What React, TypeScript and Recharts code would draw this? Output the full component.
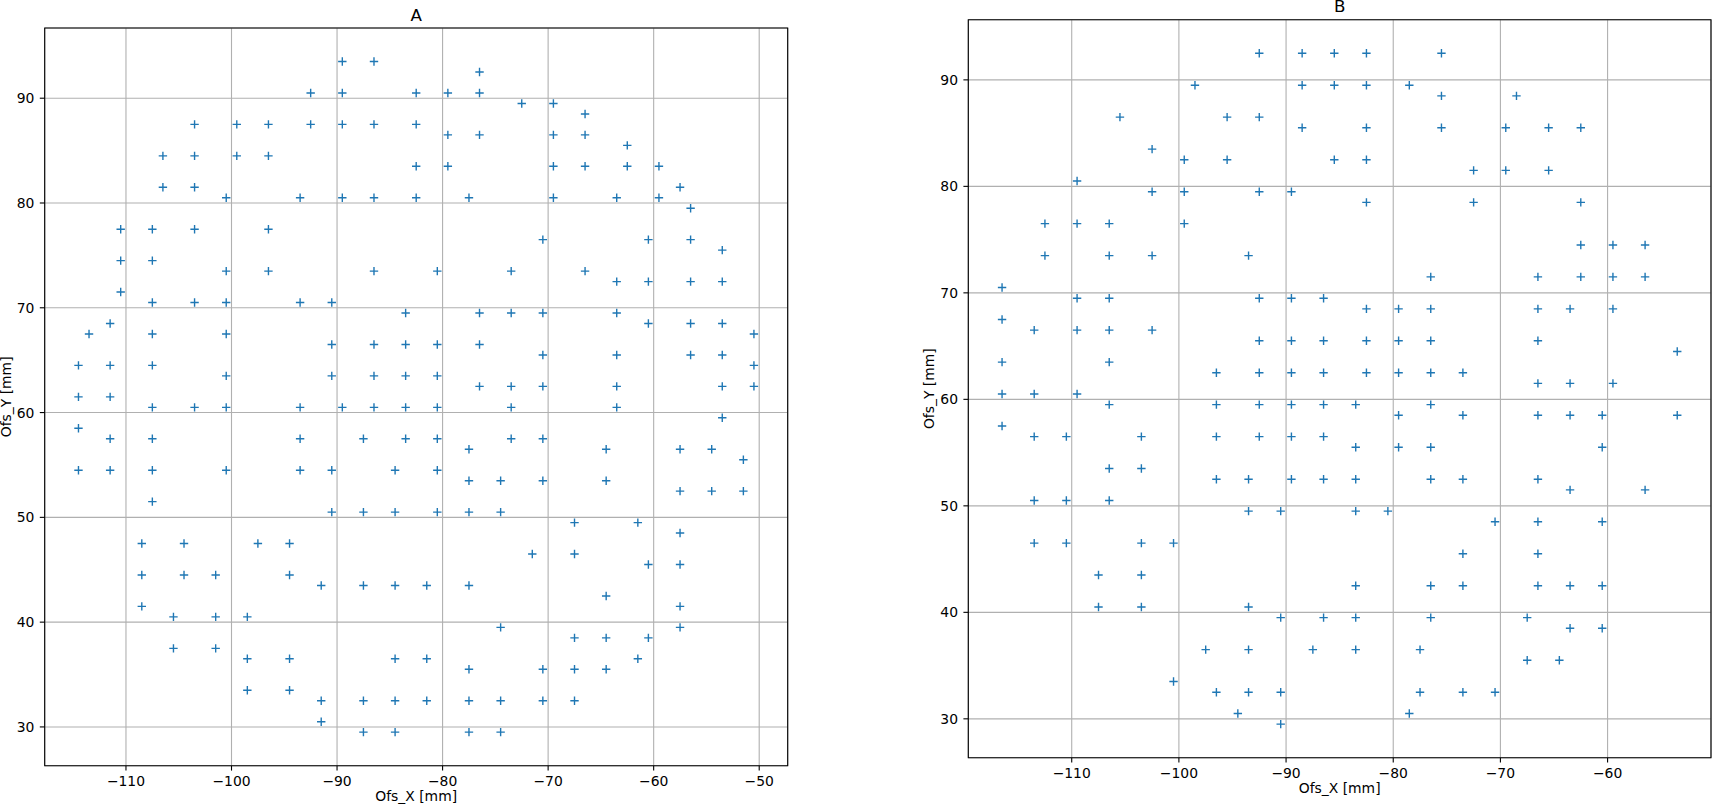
import React from 'react';
import { ScatterChart, Scatter, XAxis, YAxis, CartesianGrid, ReferenceArea } from 'recharts';

const FONT = "'DejaVu Sans', sans-serif";
const BLUE = '#1f77b4';

const A_X_TICKS = [-110, -100, -90, -80, -70, -60, -50];
const A_Y_TICKS = [30, 40, 50, 60, 70, 80, 90];
const B_X_TICKS = [-110, -100, -90, -80, -70, -60];
const B_Y_TICKS = [30, 40, 50, 60, 70, 80, 90];

// Panel A: rows of points (Ofs_Y) and the Ofs_X values in each row
const A_ROW_Y = [93.5, 92.5, 90.5, 89.5, 88.5, 87.5, 86.5, 85.5, 84.5, 83.5, 81.5, 80.5, 79.5, 77.5, 76.5, 75.5, 74.5, 73.5, 72.5, 71.5, 70.5, 69.5, 68.5, 67.5, 66.5, 65.5, 64.5, 63.5, 62.5, 61.5, 60.5, 59.5, 58.5, 57.5, 56.5, 55.5, 54.5, 53.5, 52.5, 51.5, 50.5, 49.5, 48.5, 47.5, 46.5, 45.5, 44.5, 43.5, 42.5, 41.5, 40.5, 39.5, 38.5, 37.5, 36.5, 35.5, 33.5, 32.5, 30.5, 29.5];
const A_ROW_X = [
  [-89.5, -86.5], // 93.5
  [-76.5], // 92.5
  [-92.5, -89.5, -82.5, -79.5, -76.5], // 90.5
  [-72.5, -69.5], // 89.5
  [-66.5], // 88.5
  [-103.5, -99.5, -96.5, -92.5, -89.5, -86.5, -82.5], // 87.5
  [-79.5, -76.5, -69.5, -66.5], // 86.5
  [-62.5], // 85.5
  [-106.5, -103.5, -99.5, -96.5], // 84.5
  [-82.5, -79.5, -69.5, -66.5, -62.5, -59.5], // 83.5
  [-106.5, -103.5, -57.5], // 81.5
  [-100.5, -93.5, -89.5, -86.5, -82.5, -77.5, -69.5, -63.5, -59.5], // 80.5
  [-56.5], // 79.5
  [-110.5, -107.5, -103.5, -96.5], // 77.5
  [-70.5, -60.5, -56.5], // 76.5
  [-53.5], // 75.5
  [-110.5, -107.5], // 74.5
  [-100.5, -96.5, -86.5, -80.5, -73.5, -66.5], // 73.5
  [-63.5, -60.5, -56.5, -53.5], // 72.5
  [-110.5], // 71.5
  [-107.5, -103.5, -100.5, -93.5, -90.5], // 70.5
  [-83.5, -76.5, -73.5, -70.5, -63.5], // 69.5
  [-111.5, -60.5, -56.5, -53.5], // 68.5
  [-113.5, -107.5, -100.5, -50.5], // 67.5
  [-90.5, -86.5, -83.5, -80.5, -76.5], // 66.5
  [-70.5, -63.5, -56.5, -53.5], // 65.5
  [-114.5, -111.5, -107.5, -50.5], // 64.5
  [-100.5, -90.5, -86.5, -83.5, -80.5], // 63.5
  [-76.5, -73.5, -70.5, -63.5, -53.5, -50.5], // 62.5
  [-114.5, -111.5], // 61.5
  [-107.5, -103.5, -100.5, -93.5, -89.5, -86.5, -83.5, -80.5, -73.5, -63.5], // 60.5
  [-53.5], // 59.5
  [-114.5], // 58.5
  [-111.5, -107.5, -93.5, -87.5, -83.5, -80.5, -73.5, -70.5], // 57.5
  [-77.5, -64.5, -57.5, -54.5], // 56.5
  [-51.5], // 55.5
  [-114.5, -111.5, -107.5, -100.5, -93.5, -90.5, -84.5, -80.5], // 54.5
  [-77.5, -74.5, -70.5, -64.5], // 53.5
  [-57.5, -54.5, -51.5], // 52.5
  [-107.5], // 51.5
  [-90.5, -87.5, -84.5, -80.5, -77.5, -74.5], // 50.5
  [-67.5, -61.5], // 49.5
  [-57.5], // 48.5
  [-108.5, -104.5, -97.5, -94.5], // 47.5
  [-71.5, -67.5], // 46.5
  [-60.5, -57.5], // 45.5
  [-108.5, -104.5, -101.5, -94.5], // 44.5
  [-91.5, -87.5, -84.5, -81.5, -77.5], // 43.5
  [-64.5], // 42.5
  [-108.5, -57.5], // 41.5
  [-105.5, -101.5, -98.5], // 40.5
  [-74.5, -57.5], // 39.5
  [-67.5, -64.5, -60.5], // 38.5
  [-105.5, -101.5], // 37.5
  [-98.5, -94.5, -84.5, -81.5, -61.5], // 36.5
  [-77.5, -70.5, -67.5, -64.5], // 35.5
  [-98.5, -94.5], // 33.5
  [-91.5, -87.5, -84.5, -81.5, -77.5, -74.5, -70.5, -67.5], // 32.5
  [-91.5], // 30.5
  [-87.5, -84.5, -77.5, -74.5], // 29.5
];

// Panel B
const B_ROW_Y = [92.5, 89.5, 88.5, 86.5, 85.5, 83.5, 82.5, 81.5, 80.5, 79.5, 78.5, 76.5, 74.5, 73.5, 71.5, 70.5, 69.5, 68.5, 67.5, 66.5, 65.5, 64.5, 63.5, 62.5, 61.5, 60.5, 59.5, 58.5, 57.5, 56.5, 55.5, 53.5, 52.5, 51.5, 50.5, 49.5, 48.5, 46.5, 45.5, 43.5, 42.5, 40.5, 39.5, 38.5, 36.5, 35.5, 33.5, 32.5, 30.5, 29.5];
const B_ROW_X = [
  [-92.5, -88.5, -85.5, -82.5, -75.5], // 92.5
  [-98.5, -88.5, -85.5, -82.5, -78.5], // 89.5
  [-75.5, -68.5], // 88.5
  [-105.5, -95.5, -92.5], // 86.5
  [-88.5, -82.5, -75.5, -69.5, -65.5, -62.5], // 85.5
  [-102.5], // 83.5
  [-99.5, -95.5, -85.5, -82.5], // 82.5
  [-72.5, -69.5, -65.5], // 81.5
  [-109.5], // 80.5
  [-102.5, -99.5, -92.5, -89.5], // 79.5
  [-82.5, -72.5, -62.5], // 78.5
  [-112.5, -109.5, -106.5, -99.5], // 76.5
  [-62.5, -59.5, -56.5], // 74.5
  [-112.5, -106.5, -102.5, -93.5], // 73.5
  [-76.5, -66.5, -62.5, -59.5, -56.5], // 71.5
  [-116.5], // 70.5
  [-109.5, -106.5, -92.5, -89.5, -86.5], // 69.5
  [-82.5, -79.5, -76.5, -66.5, -63.5, -59.5], // 68.5
  [-116.5], // 67.5
  [-113.5, -109.5, -106.5, -102.5], // 66.5
  [-92.5, -89.5, -86.5, -82.5, -79.5, -76.5, -66.5], // 65.5
  [-53.5], // 64.5
  [-116.5, -106.5], // 63.5
  [-96.5, -92.5, -89.5, -86.5, -82.5, -79.5, -76.5, -73.5], // 62.5
  [-66.5, -63.5, -59.5], // 61.5
  [-116.5, -113.5, -109.5], // 60.5
  [-106.5, -96.5, -92.5, -89.5, -86.5, -83.5, -76.5], // 59.5
  [-79.5, -73.5, -66.5, -63.5, -60.5, -53.5], // 58.5
  [-116.5], // 57.5
  [-113.5, -110.5, -103.5, -96.5, -92.5, -89.5, -86.5], // 56.5
  [-83.5, -79.5, -76.5, -60.5], // 55.5
  [-106.5, -103.5], // 53.5
  [-96.5, -93.5, -89.5, -86.5, -83.5, -76.5, -73.5, -66.5], // 52.5
  [-63.5, -56.5], // 51.5
  [-113.5, -110.5, -106.5], // 50.5
  [-93.5, -90.5, -83.5, -80.5], // 49.5
  [-70.5, -66.5, -60.5], // 48.5
  [-113.5, -110.5, -103.5, -100.5], // 46.5
  [-73.5, -66.5], // 45.5
  [-107.5, -103.5], // 43.5
  [-83.5, -76.5, -73.5, -66.5, -63.5, -60.5], // 42.5
  [-107.5, -103.5, -93.5], // 40.5
  [-90.5, -86.5, -83.5, -76.5, -67.5], // 39.5
  [-63.5, -60.5], // 38.5
  [-97.5, -93.5, -87.5, -83.5, -77.5], // 36.5
  [-67.5, -64.5], // 35.5
  [-100.5], // 33.5
  [-96.5, -93.5, -90.5, -77.5, -73.5, -70.5], // 32.5
  [-94.5, -78.5], // 30.5
  [-90.5], // 29.5
];

type Pt = { x: number; y: number };

function buildPoints(rowY: number[], rowX: number[][]): Pt[] {
  const pts: Pt[] = [];
  rowY.forEach((y, i) => rowX[i].forEach((x) => pts.push({ x, y })));
  return pts;
}

function autoDomain(vals: number[]): [number, number] {
  const mn = Math.min(...vals);
  const mx = Math.max(...vals);
  const pad = (mx - mn) * 0.05;
  return [mn - pad, mx + pad];
}

const fmt = (v: number) => (v < 0 ? '\u2212' + Math.abs(v) : String(v));

const Plus = (props: any) => {
  const { cx, cy } = props;
  if (cx == null || cy == null) return null;
  const r = 4.2;
  return (
    <path
      d={`M${cx - r},${cy}H${cx + r}M${cx},${cy - r}V${cy + r}`}
      stroke={BLUE}
      strokeWidth={1.4}
      fill="none"
    />
  );
};

const H = 807;
const YW = 40;
const XH = 40;
const TICK_FONT = { fontFamily: FONT, fontSize: 13.9, fill: '#000' };

type PanelProps = {
  title: string;
  points: Pt[];
  xTicks: number[];
  yTicks: number[];
  chartLeft: number;
  chartWidth: number;
  plotLeft: number;
  plotTop: number;
  plotRight: number;
  plotBottom: number;
};

function Panel(p: PanelProps) {
  const xDom = autoDomain(p.points.map((d) => d.x));
  const yDom = autoDomain(p.points.map((d) => d.y));
  const margin = {
    top: p.plotTop,
    left: p.plotLeft - p.chartLeft - YW,
    right: p.chartLeft + p.chartWidth - p.plotRight,
    bottom: H - p.plotBottom - XH,
  };
  const cx = (p.plotLeft + p.plotRight) / 2 - p.chartLeft;
  const cy = (p.plotTop + p.plotBottom) / 2;
  const xLabel = () => (
    <g>
      <text x={cx} y={p.plotBottom + 35.3} textAnchor="middle" fontFamily={FONT} fontSize={13.9} fill="#000">
        Ofs_X [mm]
      </text>
      <text x={cx} y={p.plotTop - 7.5} textAnchor="middle" fontFamily={FONT} fontSize={16.7} fill="#000">
        {p.title}
      </text>
    </g>
  );
  const yLabelX = p.plotLeft - p.chartLeft - 34;
  const yLabel = () => (
    <text
      x={yLabelX}
      y={cy}
      transform={`rotate(-90, ${yLabelX}, ${cy})`}
      textAnchor="middle"
      fontFamily={FONT}
      fontSize={13.9}
      fill="#000"
    >
      Ofs_Y [mm]
    </text>
  );
  return (
    <div style={{ position: 'absolute', left: p.chartLeft, top: 0 }}>
      <ScatterChart width={p.chartWidth} height={H} margin={margin}>
        <CartesianGrid stroke="#b0b0b0" strokeWidth={1.1} />
        <XAxis
          type="number"
          dataKey="x"
          domain={xDom}
          ticks={p.xTicks}
          allowDataOverflow
          interval={0}
          height={XH}
          axisLine={false}
          tickLine={{ stroke: '#000', strokeWidth: 1.1 }}
          tickSize={4.9}
          tickMargin={5.4}
          tick={TICK_FONT}
          tickFormatter={fmt}
          label={xLabel}
        />
        <YAxis
          type="number"
          dataKey="y"
          domain={yDom}
          ticks={p.yTicks}
          allowDataOverflow
          interval={0}
          width={YW}
          axisLine={false}
          tickLine={{ stroke: '#000', strokeWidth: 1.1 }}
          tickSize={4.9}
          tickMargin={5.4}
          tick={TICK_FONT}
          tickFormatter={fmt}
          label={yLabel}
        />
        <ReferenceArea
          x1={xDom[0]}
          x2={xDom[1]}
          y1={yDom[0]}
          y2={yDom[1]}
          fill="none"
          fillOpacity={0}
          stroke="#000"
          strokeWidth={1.1}
          ifOverflow="visible"
        />
        <Scatter data={p.points} shape={Plus} isAnimationActive={false} />
      </ScatterChart>
    </div>
  );
}

export default function App() {
  const aPts = buildPoints(A_ROW_Y, A_ROW_X);
  const bPts = buildPoints(B_ROW_Y, B_ROW_X);
  return (
    <div style={{ position: 'absolute', left: 0, top: 0, width: 1712, height: H, background: '#fff', overflow: 'hidden' }}>
      <Panel
        title="A"
        points={aPts}
        xTicks={A_X_TICKS}
        yTicks={A_Y_TICKS}
        chartLeft={0}
        chartWidth={856}
        plotLeft={44.7}
        plotTop={28}
        plotRight={787.7}
        plotBottom={765.7}
      />
      <Panel
        title="B"
        points={bPts}
        xTicks={B_X_TICKS}
        yTicks={B_Y_TICKS}
        chartLeft={870}
        chartWidth={842}
        plotLeft={968.3}
        plotTop={19.7}
        plotRight={1711}
        plotBottom={757.7}
      />
    </div>
  );
}
